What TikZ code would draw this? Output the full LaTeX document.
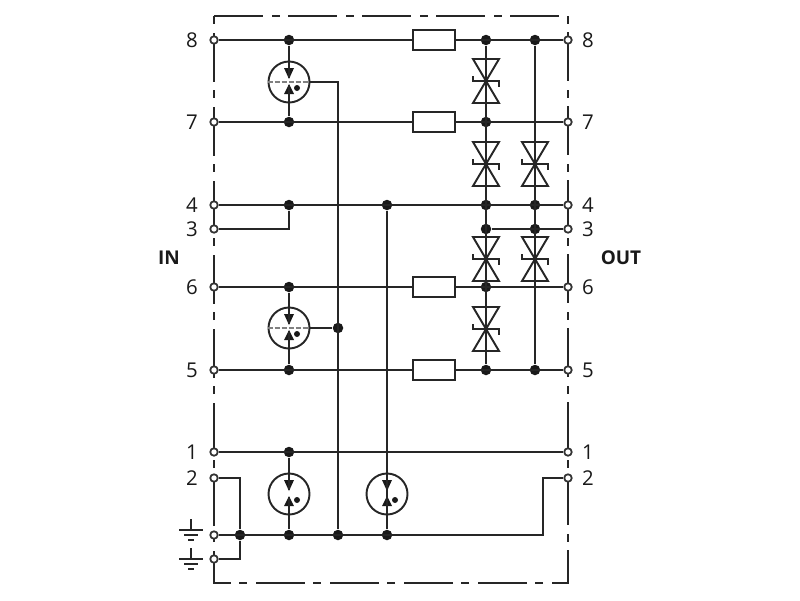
\documentclass[tikz,border=0pt]{standalone}
\usepackage{fontspec}
\setmainfont{Open Sans}
\tikzstyle{wire} = [draw=black!85, line width=0.55pt]
\tikzstyle{term} = [draw=black!80, fill=white, circle, line width=0.5pt, inner sep=0pt, minimum size=0.075cm]
\tikzstyle{dot} = [fill=black!90, circle, inner sep=0pt, minimum size=0.105cm]
\tikzstyle{res} = [wire, fill=white, inner sep=0pt, minimum width=0.42cm, minimum height=0.2cm]
\tikzstyle{num} = [font=\fontsize{5.8pt}{6pt}\selectfont, text=black!90, inner sep=0pt]
\tikzstyle{side} = [font=\fontsize{5.4pt}{6pt}\selectfont\bfseries, text=black!90, inner sep=0pt]
\tikzset{
    tvs/.pic={
        \draw[wire] (-0.13,0.22)--(0.13,0.22)--(0,0)--cycle;
        \draw[wire] (-0.13,-0.22)--(0.13,-0.22)--(0,0)--cycle;
        \draw[wire] (-0.13,0.05)--(-0.13,0)--(0.13,0)--(0.13,-0.06);
    },
    gdt/.pic={
        \node[wire, circle, inner sep=0pt, minimum size=0.41cm](-c) at (0,0){};
        \fill[black!90] (-0.05,0.14)--(0.05,0.14)--(0,0.03)--cycle;
        \fill[black!90] (-0.05,-0.12)--(0.05,-0.12)--(0,-0.02)--cycle;
        \fill[black!90] (0.08,-0.06) circle (0.03);
        \coordinate (-top) at (0,0.04);
        \coordinate (-bot) at (0,-0.03);
    },
    earth/.pic={
        \draw[wire] (0,0.11)--(0,0);
        \draw[wire] (-0.12,0)--(0.12,0);
        \draw[wire] (-0.07,-0.05)--(0.07,-0.05);
        \draw[wire] (-0.03,-0.1)--(0.03,-0.1);
    }
}

\begin{document}
\begin{tikzpicture}
    \useasboundingbox (0,0) rectangle (8,-6);
    % housing
    \draw[wire, dash pattern=on 0.49cm off 0.09cm on 0.08cm off 0.08cm] (2.14,-0.16)--(5.68,-0.16)--(5.68,-5.83)--(2.14,-5.83)--cycle;
    % terminals
    \node[term](l8) at (2.14,-0.40){};
    \node[term](l7) at (2.14,-1.22){};
    \node[term](l4) at (2.14,-2.05){};
    \node[term](l3) at (2.14,-2.29){};
    \node[term](l6) at (2.14,-2.87){};
    \node[term](l5) at (2.14,-3.70){};
    \node[term](l1) at (2.14,-4.52){};
    \node[term](l2) at (2.14,-4.78){};
    \node[term](la) at (2.14,-5.35){};
    \node[term](lb) at (2.14,-5.59){};
    \node[term](r8) at (5.68,-0.40){};
    \node[term](r7) at (5.68,-1.22){};
    \node[term](r4) at (5.68,-2.05){};
    \node[term](r3) at (5.68,-2.29){};
    \node[term](r6) at (5.68,-2.87){};
    \node[term](r5) at (5.68,-3.70){};
    \node[term](r1) at (5.68,-4.52){};
    \node[term](r2) at (5.68,-4.78){};
    % junctions
    \node[dot](a8) at (2.89,-0.40){};
    \node[dot](a7) at (2.89,-1.22){};
    \node[dot](a4) at (2.89,-2.05){};
    \node[dot](a6) at (2.89,-2.87){};
    \node[dot](a5) at (2.89,-3.70){};
    \node[dot](a1) at (2.89,-4.52){};
    \node[dot](ag) at (2.89,-5.35){};
    \node[dot](b4) at (3.87,-2.05){};
    \node[dot](bg) at (3.87,-5.35){};
    \node[dot](c6) at (3.38,-3.28){};
    \node[dot](cg) at (3.38,-5.35){};
    \node[dot](dg) at (2.40,-5.35){};
    \node[dot](e8) at (4.86,-0.40){};
    \node[dot](e7) at (4.86,-1.22){};
    \node[dot](e4) at (4.86,-2.05){};
    \node[dot](e3) at (4.86,-2.29){};
    \node[dot](e6) at (4.86,-2.87){};
    \node[dot](e5) at (4.86,-3.70){};
    \node[dot](f8) at (5.35,-0.40){};
    \node[dot](f4) at (5.35,-2.05){};
    \node[dot](f3) at (5.35,-2.29){};
    \node[dot](f5) at (5.35,-3.70){};
    \coordinate (bend) at (5.43,-5.35);
    % resistors
    \node[res](res8) at (4.34,-0.40){};
    \node[res](res7) at (4.34,-1.22){};
    \node[res](res6) at (4.34,-2.87){};
    \node[res](res5) at (4.34,-3.70){};
    % arresters
    \pic (g1) at (2.89,-0.82) {gdt};
    \pic (g2) at (2.89,-3.28) {gdt};
    \pic (g3) at (2.89,-4.94) {gdt};
    \pic (g4) at (3.87,-4.94) {gdt};
    \draw[gray, dash pattern=on 0.05cm off 0.02cm, line width=0.5pt] (g1-c.west)--(g1-c.east);
    \draw[gray, dash pattern=on 0.05cm off 0.02cm, line width=0.5pt] (g2-c.west)--(g2-c.east);
    % diodes
    \pic at (4.86,-0.81) {tvs};
    \pic at (4.86,-1.64) {tvs};
    \pic at (4.86,-2.59) {tvs};
    \pic at (4.86,-3.29) {tvs};
    \pic at (5.35,-1.64) {tvs};
    \pic at (5.35,-2.59) {tvs};
    % earth
    \pic at (1.91,-5.30) {earth};
    \pic at (1.91,-5.59) {earth};
    % wires
    \draw[wire] (l8)--(res8)--(r8);
    \draw[wire] (l7)--(res7)--(r7);
    \draw[wire] (l4)--(r4);
    \draw[wire] (l3)-|(a4);
    \draw[wire] (e3)--(r3);
    \draw[wire] (l6)--(res6)--(r6);
    \draw[wire] (l5)--(res5)--(r5);
    \draw[wire] (l1)--(r1);
    \draw[wire] (la)--(bend)|-(r2);
    \draw[wire] (l2)-|(dg);
    \draw[wire] (lb)-|(dg);
    \draw[wire] (e8)--(e5);
    \draw[wire] (f8)--(f5);
    \draw[wire] (b4)--(bg);
    \draw[wire] (g1-c)-|(cg);
    \draw[wire] (g2-c)--(c6);
    \draw[wire] (a8)--(g1-top);
    \draw[wire] (a7)--(g1-bot);
    \draw[wire] (a6)--(g2-top);
    \draw[wire] (a5)--(g2-bot);
    \draw[wire] (a1)--(g3-top);
    \draw[wire] (ag)--(g3-bot);
    \draw[wire] (b4)--(g4-top);
    \draw[wire] (bg)--(g4-bot);
    % labels
    \node[num](n8) at (1.92,-0.40){8};
    \node[num](n7) at (1.92,-1.22){7};
    \node[num](n4) at (1.92,-2.05){4};
    \node[num](n3) at (1.92,-2.29){3};
    \node[num](n6) at (1.92,-2.87){6};
    \node[num](n5) at (1.92,-3.70){5};
    \node[num](n1) at (1.92,-4.52){1};
    \node[num](n2) at (1.92,-4.78){2};
    \node[num](m8) at (5.88,-0.40){8};
    \node[num](m7) at (5.88,-1.22){7};
    \node[num](m4) at (5.88,-2.05){4};
    \node[num](m3) at (5.88,-2.29){3};
    \node[num](m6) at (5.88,-2.87){6};
    \node[num](m5) at (5.88,-3.70){5};
    \node[num](m1) at (5.88,-4.52){1};
    \node[num](m2) at (5.88,-4.78){2};
    \node[side](in) at (1.69,-2.58){IN};
    \node[side](out) at (6.21,-2.58){OUT};
\end{tikzpicture}
\end{document}
